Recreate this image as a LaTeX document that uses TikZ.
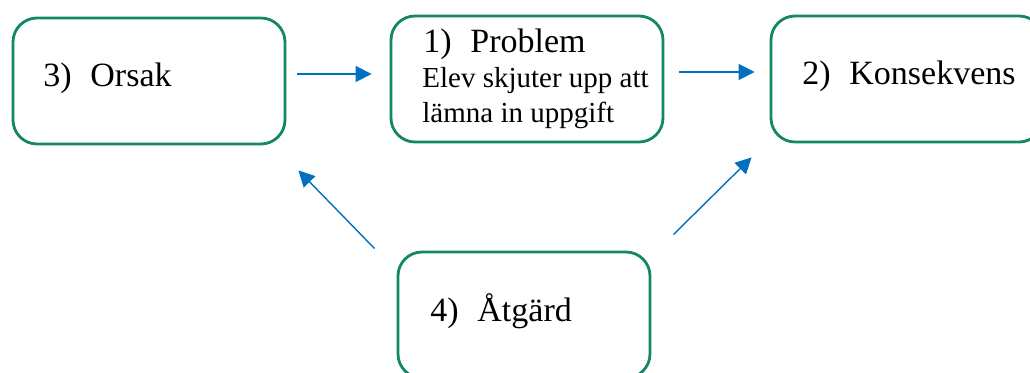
\documentclass[tikz,border=0pt]{standalone}
\usepackage{fontspec}
\setmainfont{Liberation Serif}
\usetikzlibrary{arrows.meta,positioning}

\definecolor{boxgreen}{RGB}{20,135,105}
\definecolor{arrowblue}{RGB}{0,112,192}

\tikzset{
    stepbox/.style={draw=boxgreen, line width=1.4pt, rounded corners=12pt,
        minimum width=136pt, minimum height=63pt, inner sep=0pt},
    steptext/.style={anchor=base west, inner sep=0pt, font=\fontsize{17}{20}\selectfont},
    subtext/.style={anchor=base west, inner sep=0pt, font=\fontsize{14.5}{17.5}\selectfont},
    flow/.style={draw=arrowblue, line width=0.7pt, -{Triangle[length=8pt,width=8pt]}}
}

\begin{document}
\begin{tikzpicture}[x=0.5pt, y=-0.5pt]
    \clip (0,0) rectangle (1030,373);

    \node[stepbox] (orsak) at (149,81) {};
    \node[stepbox] (problem) at (527,79) {};
    \node[stepbox] (konsekvens) at (907,79) {};
    \node[stepbox, minimum width=126pt] (atgard) at (524,315) {};

    \node[steptext] (orsak text) at (43,87) {3)\hspace{0.55em}Orsak};
    \node[steptext] (problem text) at (423,53) {1)\hspace{0.55em}Problem};
    \node[subtext] (problem line1) at (422,88) {Elev skjuter upp att};
    \node[subtext] (problem line2) at (422,123) {lämna in uppgift};
    \node[steptext] (konsekvens text) at (802,85) {2)\hspace{0.55em}Konsekvens};
    \node[steptext] (atgard text) at (430,322) {4)\hspace{0.55em}Åtgärd};

    % arrows between the steps
    \draw[flow] ([yshift=3.5pt]orsak.east) ++(5.5pt,0) -- ([yshift=3.5pt,xshift=-9pt]orsak.east -| problem.west);
    \draw[flow] ([yshift=3.5pt,xshift=7.5pt]problem.east) -- ([yshift=3.5pt,xshift=-7.5pt]problem.east -| konsekvens.west);
    \draw[flow] ([xshift=-11pt,yshift=1pt]atgard.north west) -- ([xshift=6pt,yshift=-12.5pt]orsak.south east);
    \draw[flow] ([xshift=11pt,yshift=8pt]atgard.north east) -- ([xshift=-9pt,yshift=-7pt]konsekvens.south west);
\end{tikzpicture}
\end{document}
